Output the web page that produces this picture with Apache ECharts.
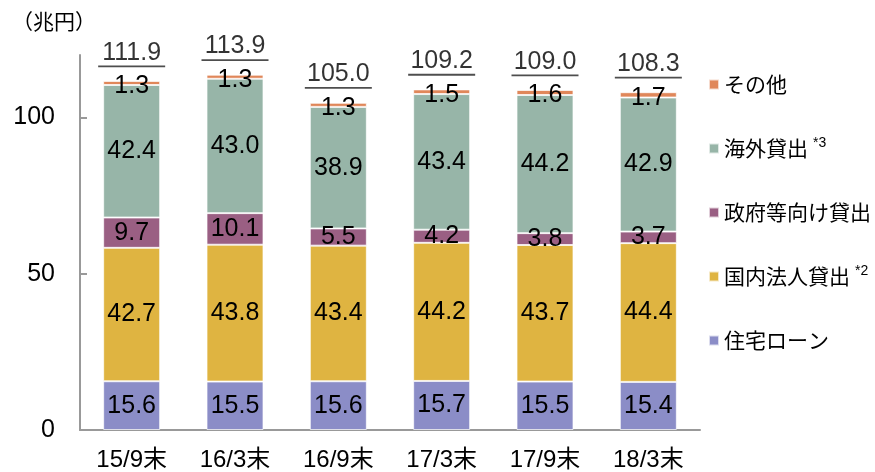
<!DOCTYPE html>
<html><head><meta charset="utf-8">
<script src="https://cdn.jsdelivr.net/npm/echarts@6/dist/echarts.min.js"></script>
<style>html,body{margin:0;padding:0;background:#fff}#c{width:875px;height:472px}</style>
</head><body><div id="c"></div>
<script>
const categories = ['15/9末','16/3末','16/9末','17/3末','17/9末','18/3末'];
const housing = [15.6, 15.5, 15.6, 15.7, 15.5, 15.4];
const corporate = [42.7, 43.8, 43.4, 44.2, 43.7, 44.4];
const government = [9.7, 10.1, 5.5, 4.2, 3.8, 3.7];
const overseas = [42.4, 43.0, 38.9, 43.4, 44.2, 42.9];
const others = [1.3, 1.3, 1.3, 1.5, 1.6, 1.7];
const totals = [111.9, 113.9, 105.0, 109.2, 109.0, 108.3];
const yTicks = [0, 50, 100];

const FONT = '"Liberation Sans", Arial, "Noto Sans CJK JP", sans-serif';
const JP = '"Noto Sans CJK JP", sans-serif';
const names = ['住宅ローン','国内法人貸出','政府等向け貸出','海外貸出','その他'];
const colors = ['#8B8DC7','#DFB441','#9A5F83','#97B5A8','#E0875A'];
const values = [housing, corporate, government, overseas, others];

const chart = echarts.init(document.getElementById('c'));
const series = values.map((v, i) => ({
  name: names[i], type: 'bar', stack: 'total', data: v, barWidth: 57,
  itemStyle: { color: colors[i], borderColor: 'rgba(255,255,255,0.7)', borderWidth: 1 },
  label: { show: true, position: 'inside', color: '#000', fontSize: 25, fontFamily: FONT,
           offset: i === 4 ? [0, 3] : [0, 0], formatter: p => p.value.toFixed(1) },
  z: 2
}));
series.push({
  name: 'total', type: 'scatter', data: totals, symbolSize: 0, silent: true, z: 5,
  label: { show: true, position: 'top', distance: 15, color: '#000', fontSize: 25, fontFamily: FONT,
           formatter: p => p.value.toFixed(1) }
});
series.push({
  name: 'underline', type: 'scatter', data: totals, symbol: 'rect', symbolSize: [67, 1.8],
  symbolOffset: [0, -14], itemStyle: { color: '#222' }, silent: true, z: 5
});

chart.setOption({
  animation: false,
  textStyle: { fontFamily: FONT },
  grid: { left: 80, right: 175, top: 55, bottom: 40 },
  graphic: [{ type: 'text', left: 12, top: 11, style: { text: '（兆円）', fontSize: 21, fill: '#000', fontFamily: JP } }],
  legend: {
    data: names.slice().reverse(), orient: 'vertical', left: 703, top: 67,
    itemWidth: 10, itemHeight: 10, itemGap: 39, icon: 'rect',
    textStyle: { fontSize: 21, color: '#000', fontFamily: JP, lineHeight: 25,
      rich: {
        n: { fontSize: 21, lineHeight: 25, fontFamily: JP },
        s: { fontSize: 14, lineHeight: 25, padding: [0, 0, 10, 5], fontFamily: FONT }
      } },
    formatter: n => n === '海外貸出' ? '{n|海外貸出}{s|*3}' : (n === '国内法人貸出' ? '{n|国内法人貸出}{s|*2}' : '{n|' + n + '}')
  },
  xAxis: {
    type: 'category', data: categories,
    axisLine: { lineStyle: { color: '#999', width: 2 } }, axisTick: { show: false },
    axisLabel: { color: '#000', fontSize: 24, margin: 18, fontFamily: FONT }
  },
  yAxis: {
    type: 'value', min: 0, max: 120, interval: 50,
    axisLine: { show: true, lineStyle: { color: '#999', width: 2 } },
    axisTick: { show: true, inside: true, length: 7, lineStyle: { color: '#999', width: 2 }, customValues: yTicks },
    axisLabel: { color: '#000', fontSize: 25, margin: 25, fontFamily: FONT, customValues: yTicks },
    splitLine: { show: false }
  },
  series: series
});
</script></body></html>
